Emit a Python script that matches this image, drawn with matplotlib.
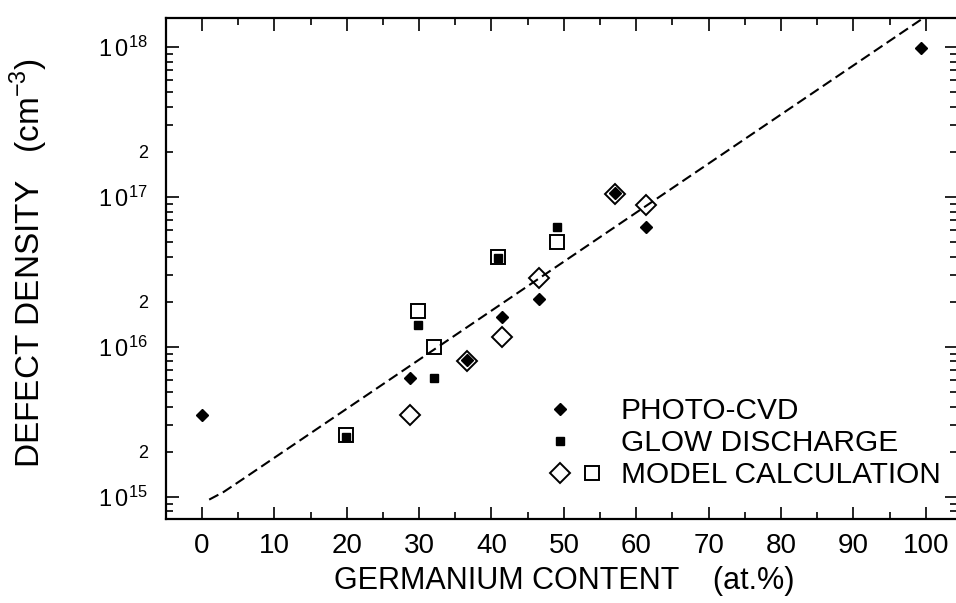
import matplotlib
matplotlib.use("Agg")
import matplotlib.pyplot as plt
import numpy as np
from matplotlib.legend_handler import HandlerTuple
from matplotlib.lines import Line2D
from matplotlib.ticker import FuncFormatter, LogLocator, MultipleLocator

plt.rcParams["font.family"] = ["Liberation Sans", "DejaVu Sans"]
plt.rcParams["mathtext.fontset"] = "custom"
plt.rcParams["mathtext.rm"] = "Liberation Sans"

# %% data (Ge content in at.%, defect density in cm^-3)
photoX = [0, 28.7, 36.6, 41.5, 46.5, 57.1, 61.3, 99.4]
photoY = [3.5e15, 6.2e15, 8.2e15, 1.59e16, 2.1e16, 1.06e17, 6.3e16, 9.8e17]
glowX = [19.9, 29.8, 32.1, 40.9, 49.0]
glowY = [2.5e15, 1.4e16, 6.2e15, 3.9e16, 6.3e16]
modelDiaX = [28.7, 36.6, 41.5, 46.5, 57.1, 61.3]
modelDiaY = [3.5e15, 8.0e15, 1.17e16, 2.87e16, 1.04e17, 8.8e16]
modelSqX = [19.9, 29.8, 32.1, 40.9, 49.0]
modelSqY = [2.6e15, 1.75e16, 1.0e16, 4.0e16, 5.0e16]
fitX = [1, 3, 6, 100]
fitY = [9.6e14, 1.08e15, 1.35e15, 1.6e18]
labels = ["PHOTO-CVD", "GLOW DISCHARGE", "MODEL CALCULATION"]

# %% plot
fig = plt.figure(figsize=(9.56, 6.03), dpi=100)
ax = fig.add_axes([0.1736, 0.1393, 0.8274, 0.8308])

(fitLine,) = ax.plot(fitX, fitY, color="k", lw=1.5)
fitLine.set_dashes([5, 2.4])
ax.plot(modelDiaX, modelDiaY, ls="none", marker="D", ms=9.7, mfc="none", mec="k", mew=1.4)
ax.plot(modelSqX, modelSqY, ls="none", marker="s", ms=10.5, mfc="none", mec="k", mew=1.4)
ax.plot(photoX, photoY, ls="none", marker="D", ms=6.3, color="k")
ax.plot(glowX, glowY, ls="none", marker="s", ms=6.2, color="k")

ax.set_yscale("log")
ax.set_xlim(-4.97, 104.3)
ax.set_ylim(10**14.853, 10**18.193)

ax.xaxis.set_major_locator(MultipleLocator(10))
ax.xaxis.set_minor_locator(MultipleLocator(5))
ax.yaxis.set_major_locator(LogLocator(base=10, numticks=10))
ax.yaxis.set_minor_locator(LogLocator(base=10, subs=np.arange(2, 10), numticks=20))
ax.yaxis.set_major_formatter(
    FuncFormatter(lambda v, p: r"$\mathregular{1\,0^{%d}}$" % round(np.log10(v)))
)
ax.yaxis.set_minor_formatter(
    FuncFormatter(lambda v, p: "2" if abs(v / 10 ** np.floor(np.log10(v) + 1e-9) - 2) < 1e-6 else "")
)

ax.tick_params(which="both", direction="in", top=True, right=True, width=1.2)
ax.tick_params(which="major", length=9)
ax.tick_params(which="minor", length=5)
ax.tick_params(axis="x", labelsize=20, pad=10)
ax.tick_params(axis="y", which="major", labelsize=17, pad=13)
ax.tick_params(axis="y", which="minor", labelsize=13, pad=13)
for s in ["left", "bottom", "top"]:
    ax.spines[s].set_linewidth(1.6)
ax.spines["right"].set_visible(False)

ax.set_xlabel("GERMANIUM CONTENT    (at.%)", fontsize=22)
ax.xaxis.set_label_coords(0.503, -0.094)
ax.set_ylabel(r"DEFECT DENSITY   (cm$^{\mathregular{-3}}$)", fontsize=24)
ax.yaxis.set_label_coords(-0.147, 0.511)

hPhoto = Line2D([], [], ls="none", marker="D", ms=6.3, color="k")
hGlow = Line2D([], [], ls="none", marker="s", ms=6.2, color="k")
hDia = Line2D([], [], ls="none", marker="D", ms=9.7, mfc="none", mec="k", mew=1.4)
hSq = Line2D([], [], ls="none", marker="s", ms=10.5, mfc="none", mec="k", mew=1.4)
hBlank = Line2D([], [], ls="none")
ax.legend(
    [(hPhoto, hBlank), (hGlow, hBlank), (hDia, hSq)],
    labels,
    handler_map={tuple: HandlerTuple(ndivide=None, pad=0.2)},
    loc="upper left",
    bbox_to_anchor=(0.4817, 0.2435),
    frameon=False,
    fontsize=21.5,
    borderpad=0,
    borderaxespad=0,
    handlelength=1.94,
    handletextpad=0.53,
    labelspacing=0.14,
)

fig.savefig("out.png", dpi=100)
